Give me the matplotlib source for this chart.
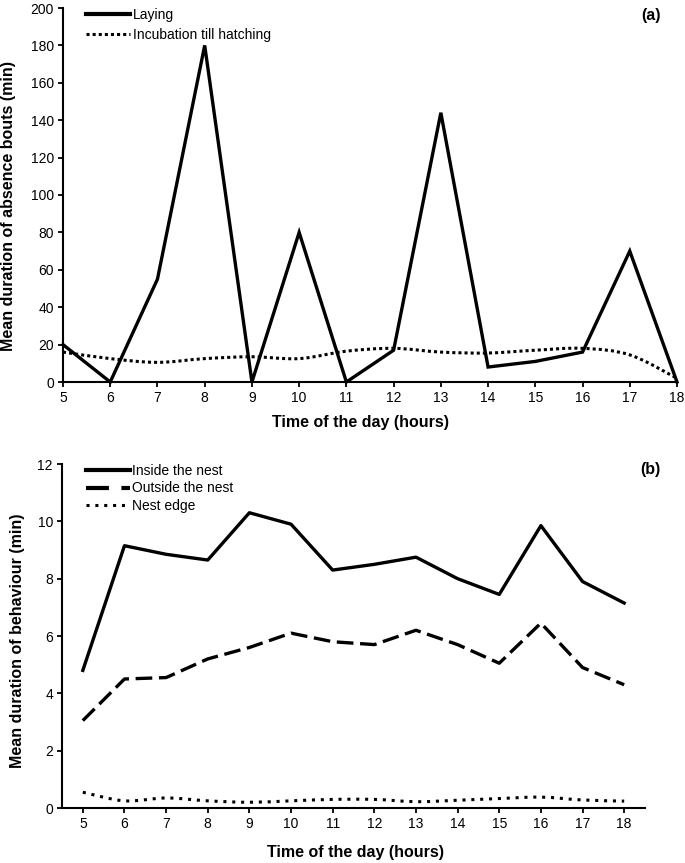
import numpy as np
import matplotlib.pyplot as plt
from matplotlib.path import Path
from matplotlib.patches import PathPatch
from matplotlib.lines import Line2D

hours = [5, 6, 7, 8, 9, 10, 11, 12, 13, 14, 15, 16, 17, 18]

# panel (a)
laying = [20, 0, 55, 180, 0, 80, 0, 17, 144, 8, 11, 16, 70, 0]
incubation = [16, 12.5, 10.5, 12.5, 13.5, 12.5, 16.5, 18, 16, 15.5, 17, 18, 14.5, 2]

# panel (b)
inside = [4.8, 9.15, 8.85, 8.65, 10.3, 9.9, 8.3, 8.5, 8.75, 8.0, 7.45, 9.85, 7.9, 7.15]
outside = [3.05, 4.5, 4.55, 5.2, 5.6, 6.1, 5.8, 5.7, 6.2, 5.7, 5.05, 6.45, 4.9, 4.3]
edge = [0.55, 0.25, 0.35, 0.25, 0.2, 0.25, 0.3, 0.3, 0.22, 0.27, 0.33, 0.38, 0.28, 0.24]

font = 'Liberation Sans'
DOT_A = (0, (1, 1))
DOT_B = (0, (1, 1.9))
DASH = (0, (5, 2))

plt.rcParams['font.family'] = font


def smooth_path(x, y):
    # excel style smoothed line as bezier segments
    pts = np.column_stack([x, y]).astype(float)
    n = len(pts)
    verts = [pts[0]]
    codes = [Path.MOVETO]
    for i in range(n - 1):
        p0 = pts[max(i - 1, 0)]
        p1 = pts[i]
        p2 = pts[i + 1]
        p3 = pts[min(i + 2, n - 1)]
        c1 = p1 + (p2 - p0) / 6
        c2 = p2 - (p3 - p1) / 6
        verts += [c1, c2, p2]
        codes += [Path.CURVE4] * 3
    return Path(verts, codes)


def style_axes(ax):
    ax.spines['top'].set_visible(False)
    ax.spines['right'].set_visible(False)
    ax.spines['left'].set_linewidth(1.5)
    ax.spines['bottom'].set_linewidth(1.5)
    ax.tick_params(direction='out', length=3.5, width=1.3, labelsize=10, pad=3)


fig = plt.figure(figsize=(6.85, 8.63), dpi=100)

# ---- panel (a)
ax1 = fig.add_axes([63 / 685, 1 - 382 / 863, 614 / 685, 374 / 863])
ax1.plot(hours, laying, color='black', lw=2.4, solid_joinstyle='miter', clip_on=False)
ax1.add_patch(PathPatch(smooth_path(hours, incubation), fill=False, ec='black',
                        lw=2.2, ls=DOT_A, capstyle='butt'))
ax1.set_xlim(5, 18)
ax1.set_ylim(0, 200)
ax1.set_xticks(hours)
ax1.set_yticks(np.arange(0, 201, 20))
ax1.set_ylabel('Mean duration of absence bouts (min)', fontsize=11.5,
               fontweight='bold')
ax1.yaxis.set_label_coords(-0.0765, 0.47)
ax1.set_xlabel('Time of the day (hours)', fontsize=11.5, fontweight='bold')
ax1.xaxis.set_label_coords(0.485, -0.088)
style_axes(ax1)
ax1.text(0.958, 0.981, '(a)', transform=ax1.transAxes, ha='center', va='center',
         fontsize=11.5, fontweight='bold')
h1 = [Line2D([], [], color='black', lw=3),
      Line2D([], [], color='black', lw=2.2, ls=DOT_A)]
ax1.legend(h1, ['Laying', 'Incubation till hatching'], loc='upper left',
           bbox_to_anchor=(0.0375, 1.0), frameon=False, borderpad=0,
           borderaxespad=0, handlelength=3.2, handletextpad=0.15,
           labelspacing=0.45, fontsize=10)

# ---- panel (b)
ax2 = fig.add_axes([62 / 685, 1 - 808 / 863, 583 / 685, 344 / 863])
ax2.plot(hours, inside, color='black', lw=2.4)
ax2.plot(hours, outside, color='black', lw=2.4, ls=DASH)
ax2.add_patch(PathPatch(smooth_path(hours, edge), fill=False, ec='black',
                        lw=2.2, ls=DOT_B, capstyle='butt'))
ax2.set_xlim(4.5, 18.5)
ax2.set_ylim(0, 12)
ax2.set_xticks(hours)
ax2.set_yticks(np.arange(0, 13, 2))
ax2.set_ylabel('Mean duration of behaviour (min)', fontsize=11.5,
               fontweight='bold')
ax2.yaxis.set_label_coords(-0.0635, 0.485)
ax2.set_xlabel('Time of the day (hours)', fontsize=11.5, fontweight='bold')
ax2.xaxis.set_label_coords(0.503, -0.108)
style_axes(ax2)
ax2.text(1.0086, 0.983, '(b)', transform=ax2.transAxes, ha='center', va='center',
         fontsize=11.5, fontweight='bold')
h2 = [Line2D([], [], color='black', lw=3),
      Line2D([], [], color='black', lw=3, ls=(0, (5.5, 3))),
      Line2D([], [], color='black', lw=2.2, ls=DOT_B)]
ax2.legend(h2, ['Inside the nest', 'Outside the nest', 'Nest edge'],
           loc='upper left', bbox_to_anchor=(0.041, 1.0), frameon=False,
           borderpad=0, borderaxespad=0, handlelength=3.2,
           handletextpad=0.15, labelspacing=0.25, fontsize=10)

fig.savefig('out.png', dpi=100)
